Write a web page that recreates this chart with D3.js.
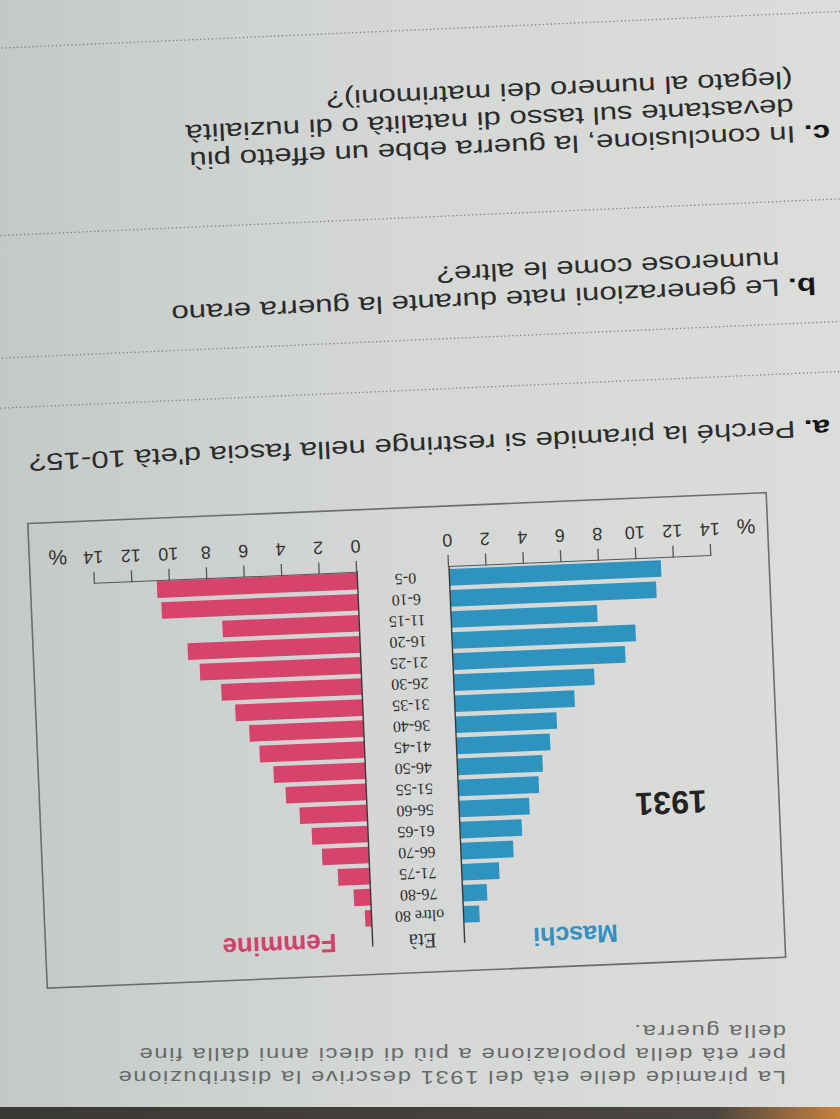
<!DOCTYPE html>
<html>

<head>
  <title>Piramide delle età 1931</title>
  <meta charset="utf-8" />
  <script src="https://cdn.jsdelivr.net/npm/d3@7"></script>
  <style>
    body {
      margin: 0;
      background: #d3d6d4;
    }

    svg {
      display: block;
    }

    .sans {
      font-family: "Liberation Sans", Arial, sans-serif;
    }

    .serif {
      font-family: "Liberation Serif", "Times New Roman", serif;
    }

    .dots {
      stroke: #7d7f7e;
      stroke-width: 1.3px;
      stroke-dasharray: 1 2;
    }
  </style>
</head>

<body>

  <svg id="page" width="840" height="1119"></svg>

  <script>
    // data (percent of population, 1931)
    const ageGroups = ["0-5", "6-10", "11-15", "16-20", "21-25", "26-30", "31-35", "36-40", "41-45",
      "46-50", "51-55", "56-60", "61-65", "66-70", "71-75", "76-80", "oltre 80"];
    const maschi = [11.3, 11.0, 7.8, 9.8, 9.2, 7.5, 6.4, 5.4, 5.0, 4.55, 4.3, 3.75, 3.3, 2.8, 2.0, 1.3, 0.85];
    const femmine = [10.7, 10.5, 7.3, 9.2, 8.6, 7.5, 6.8, 6.1, 5.6, 4.9, 4.3, 3.6, 3.0, 2.5, 1.7, 0.9, 0.35];
    const tickValues = [0, 2, 4, 6, 8, 10, 12, 14];

    const introLines = [
      "La piramide delle età del 1931 descrive la distribuzione",
      "per età della popolazione a più di dieci anni dalla fine",
      "della guerra."
    ];
    const questions = [
      { label: "a.", lines: ["Perché la piramide si restringe nella fascia d'età 10-15?"] },
      { label: "b.", lines: ["Le generazioni nate durante la guerra erano", "numerose come le altre?"] },
      { label: "c.", lines: ["In conclusione, la guerra ebbe un effetto più",
        "devastante sul tasso di natalità o di nuzialità", "(legato al numero dei matrimoni)?"] }
    ];

    const svg = d3.select("#page");
    const width = +svg.attr("width");
    const height = +svg.attr("height");

    // paper background, the page is photographed upside down
    const defs = svg.append("defs");
    const grad = defs.append("linearGradient").attr("id", "paper");
    grad.append("stop").attr("offset", "0%").attr("stop-color", "#c4c9c8");
    grad.append("stop").attr("offset", "45%").attr("stop-color", "#d4d7d5");
    grad.append("stop").attr("offset", "100%").attr("stop-color", "#dcdddb");
    svg.append("rect").attr("width", width).attr("height", height).attr("fill", "url(#paper)");
    const edge = defs.append("linearGradient").attr("id", "edge");
    edge.append("stop").attr("offset", "0%").attr("stop-color", "#3a3835");
    edge.append("stop").attr("offset", "85%").attr("stop-color", "#4a4540");
    edge.append("stop").attr("offset", "100%").attr("stop-color", "#c8813f");
    svg.append("rect").attr("y", height - 12).attr("width", width).attr("height", 12).attr("fill", "url(#edge)");

    // ---- intro text (bottom of the photo)
    const intro = svg.append("g")
      .attr("class", "sans")
      .attr("transform", "translate(786,1078) rotate(180) scale(1.25,1)");
    intro.selectAll("text").data(introLines)
      .join("text")
      .attr("x", 0)
      .attr("y", (d, i) => i * 23.3)
      .attr("dy", "0.35em")
      .attr("font-size", 19)
      .attr("letter-spacing", 1.3)
      .attr("fill", "#666a69")
      .text(d => d);

    // ---- questions (top of the photo)
    const qAnchors = [[830, 428], [816, 286], [830, 133]];
    const qDots = [[56, 106], [86], [121]];
    questions.forEach((q, qi) => {
      const g = svg.append("g")
        .attr("class", "sans")
        .attr("transform", "translate(" + qAnchors[qi][0] + "," + qAnchors[qi][1] + ") rotate(177.5) scale(1.3,1)");
      q.lines.forEach((line, li) => {
        const t = g.append("text")
          .attr("x", li === 0 ? 0 : 27)
          .attr("y", li * 27.5)
          .attr("dy", "0.35em")
          .attr("font-size", 24)
          .attr("fill", "#2a2b2b");
        if (li === 0) {
          t.append("tspan").attr("font-weight", "bold").attr("fill", "#161616").text(q.label + " ");
        }
        t.append("tspan").text(line);
      });
      qDots[qi].forEach(yy => {
        g.append("line").attr("class", "dots")
          .attr("x1", -60).attr("x2", 700).attr("y1", yy).attr("y2", yy);
      });
    });

    // ---- the pyramid, drawn upright in its own frame and turned with the page
    const chart = svg.append("g").attr("transform", "translate(449,567) rotate(177.6)");
    const pxPerPct = 18.75;
    const gap = 92;

    const xMale = d3.scaleLinear().domain([0, 14]).range([0, -14 * pxPerPct]);
    const xFemale = d3.scaleLinear().domain([0, 14]).range([gap, gap + 14 * pxPerPct]);
    const y = d3.scaleBand().domain(ageGroups.slice().reverse()).range([-356, -2]).paddingInner(0.21);

    // frame round the chart
    chart.append("rect")
      .attr("x", -320).attr("y", -404)
      .attr("width", 739).attr("height", 465)
      .attr("fill", "none")
      .attr("stroke", "#6b6d6c")
      .attr("stroke-width", 1.6);

    chart.selectAll("rect.m").data(ageGroups)
      .join("rect")
      .attr("class", "m")
      .attr("x", (d, i) => xMale(maschi[i]))
      .attr("y", d => y(d))
      .attr("width", (d, i) => xMale(0) - xMale(maschi[i]))
      .attr("height", y.bandwidth())
      .attr("fill", "#2f93bf");

    chart.selectAll("rect.f").data(ageGroups)
      .join("rect")
      .attr("class", "f")
      .attr("x", xFemale(0))
      .attr("y", d => y(d))
      .attr("width", (d, i) => xFemale(femmine[i]) - xFemale(0))
      .attr("height", y.bandwidth())
      .attr("fill", "#d6436b");

    // zero lines
    [xMale(0), xFemale(0)].forEach(x0 => {
      chart.append("line")
        .attr("x1", x0).attr("x2", x0)
        .attr("y1", 0).attr("y2", -376)
        .attr("stroke", "#3a3a3a")
        .attr("stroke-width", 1.4);
    });

    const styleAxis = g => {
      g.select(".domain").attr("stroke", "#555");
      g.selectAll(".tick line").attr("stroke", "#555").attr("stroke-width", 1.3);
      g.selectAll(".tick text")
        .attr("font-family", "'Liberation Sans', Arial, sans-serif")
        .attr("font-size", 18)
        .attr("fill", "#333");
    };

    chart.append("g")
      .call(d3.axisBottom(xMale).tickValues(tickValues).tickSize(12).tickSizeOuter(0).tickPadding(8))
      .call(styleAxis);
    chart.append("g")
      .attr("transform", "translate(0,-2)")
      .call(d3.axisBottom(xFemale).tickValues(tickValues).tickSize(12).tickSizeOuter(0).tickPadding(8))
      .call(styleAxis);

    chart.append("text").attr("class", "sans")
      .attr("x", xMale(14) - 36).attr("y", 28).attr("dy", "0.35em")
      .attr("text-anchor", "middle").attr("font-size", 21).attr("fill", "#333")
      .text("%");
    chart.append("text").attr("class", "sans")
      .attr("x", xFemale(14) + 36).attr("y", 26).attr("dy", "0.35em")
      .attr("text-anchor", "middle").attr("font-size", 21).attr("fill", "#333")
      .text("%");

    // age labels between the two halves
    chart.selectAll("text.age").data(ageGroups)
      .join("text")
      .attr("class", "age serif")
      .attr("x", gap / 2 - 2)
      .attr("y", d => y(d) + y.bandwidth() / 2)
      .attr("dy", "0.35em")
      .attr("text-anchor", "middle")
      .attr("font-size", 16)
      .attr("fill", "#2e2e2e")
      .text(d => d);

    chart.append("text").attr("class", "serif")
      .attr("x", 42).attr("y", -373).attr("dy", "0.35em")
      .attr("text-anchor", "middle").attr("font-size", 21).attr("fill", "#333")
      .text("Età");
    chart.append("text").attr("class", "sans")
      .attr("x", -111).attr("y", -373).attr("dy", "0.35em")
      .attr("text-anchor", "middle").attr("font-size", 25).attr("font-weight", "bold")
      .attr("fill", "#3590c0")
      .text("Maschi");
    chart.append("text").attr("class", "sans")
      .attr("x", 185).attr("y", -371).attr("dy", "0.35em")
      .attr("text-anchor", "middle").attr("font-size", 26).attr("font-weight", "bold")
      .attr("fill", "#d2416b")
      .text("Femmine");
    chart.append("text").attr("class", "sans")
      .attr("x", -212).attr("y", -245).attr("dy", "0.35em")
      .attr("text-anchor", "middle").attr("font-size", 32).attr("font-weight", "bold")
      .attr("fill", "#232323")
      .text("1931");
  </script>
</body>

</html>
